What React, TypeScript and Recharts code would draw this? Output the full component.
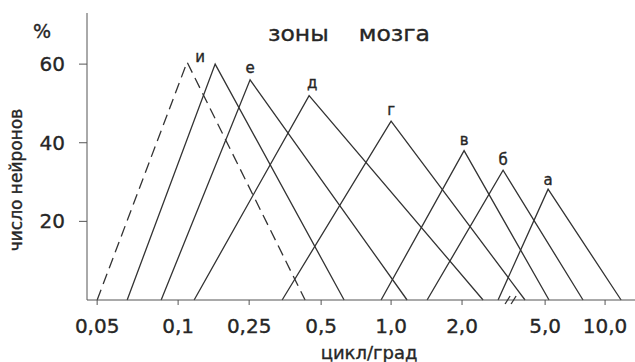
import React from 'react'
import { LineChart, Line, XAxis, YAxis, ReferenceDot } from 'recharts'

// positions along the hand-drawn frequency axis (1 unit ~ one tick step)
const tickPos = [0, 1.117, 2.097, 3.09, 4.055, 5.034, 6.18, 7.007]
const tickLabels = ['0,05', '0,1', '0,25', '0,5', '1,0', '2,0', '5,0', '10,0']
const yTicks = [20, 40, 60]
const axisBreak = 5.738

// one triangle per brain zone
const zoneNames = ['и', '', 'е', 'д', 'г', 'в', 'б', 'а']
const leftEdge = [0, 0.414, 0.883, 1.338, 2.552, 3.917, 4.552, 5.531]
const peakPos = [1.241, 1.628, 2.11, 2.924, 4.055, 5.062, 5.6, 6.221]
const rightEdge = [2.869, 3.407, 4.276, 5.324, 5.903, 6.234, 6.703, 7.228]
const peakValue = [60.5, 60, 56, 52, 45.5, 38, 33, 28.2]

const labelShift = [
  { dx: 13, dy: 0 },
  { dx: 0, dy: -6 },
  { dx: 0, dy: -7 },
  { dx: 3, dy: -8 },
  { dx: 0, dy: -6 },
  { dx: 0, dy: -6 },
  { dx: 0, dy: -5 },
  { dx: 0, dy: -4 },
]

const font = 'DejaVu Sans, Verdana, sans-serif'
const ink = '#262626'

const zones = zoneNames.map((name, i) => ({
  name,
  points: [
    { x: leftEdge[i], y: 0 },
    { x: peakPos[i], y: peakValue[i] },
    { x: rightEdge[i], y: 0 },
  ],
}))

const BreakMark = (props: any) => {
  const { cx, cy } = props
  return (
    <g stroke="#333" strokeWidth={1.3}>
      <line x1={cx - 8} y1={cy + 4} x2={cx - 3} y2={cy - 4} />
      <line x1={cx - 2} y1={cy + 4} x2={cx + 3} y2={cy - 4} />
    </g>
  )
}

const heavy = { stroke: ink, strokeWidth: 0.35 }

export default function App() {
  return (
    <div style={{ position: 'absolute', left: 0, top: 0, width: 635, height: 362, background: '#fff' }}>
      <LineChart width={635} height={362} margin={{ top: 13, right: 0, left: 0, bottom: 32 }}>
        <XAxis
          type="number"
          dataKey="x"
          domain={[-0.14, 7.42]}
          ticks={tickPos}
          interval={0}
          allowDataOverflow
          tickFormatter={(v) => tickLabels[tickPos.indexOf(v)] ?? ''}
          height={30}
          tickSize={5}
          tickMargin={14}
          stroke="#555"
          tick={{ fontSize: 20, fill: ink, fontFamily: font, ...heavy }}
        />
        <YAxis
          type="number"
          domain={[0, 73]}
          ticks={yTicks}
          width={87}
          tickSize={8}
          tickMargin={14}
          stroke="#555"
          tick={{ fontSize: 20, fill: ink, fontFamily: font, ...heavy }}
        />
        {zones.map((z, i) => (
          <Line
            key={i}
            data={z.points}
            dataKey="y"
            type="linear"
            stroke="#333"
            strokeWidth={1.3}
            strokeDasharray={i === 0 ? '11 6' : undefined}
            dot={false}
            activeDot={false}
            isAnimationActive={false}
            label={(p: any) =>
              p.index === 1 && z.name ? (
                <text
                  x={p.x + labelShift[i].dx}
                  y={p.y + labelShift[i].dy}
                  textAnchor="middle"
                  fontSize={15}
                  fontFamily={font}
                  fill={ink}
                  {...heavy}
                >
                  {z.name}
                </text>
              ) : (
                <g />
              )
            }
          />
        ))}
        <ReferenceDot x={axisBreak} y={0} r={0} ifOverflow="visible" shape={BreakMark} />
      </LineChart>
      <svg width={635} height={362} style={{ position: 'absolute', left: 0, top: 0, pointerEvents: 'none' }}>
        <text x={33} y={38} fontSize={19} fontFamily={font} fill={ink} {...heavy}>%</text>
        <text x={268} y={41} fontSize={21} fontFamily={font} fill={ink} {...heavy} textLength={162} lengthAdjust="spacingAndGlyphs" style={{ whiteSpace: 'pre' }}>
          зоны    мозга
        </text>
        <text x={369} y={359} fontSize={18} fontFamily={font} fill={ink} {...heavy} textAnchor="middle">
          цикл/град
        </text>
        <text
          x={22}
          y={180}
          fontSize={17}
          fontFamily={font}
          fill={ink}
          {...heavy}
          textAnchor="middle"
          transform="rotate(-90 22 180)"
        >
          число нейронов
        </text>
      </svg>
    </div>
  )
}
